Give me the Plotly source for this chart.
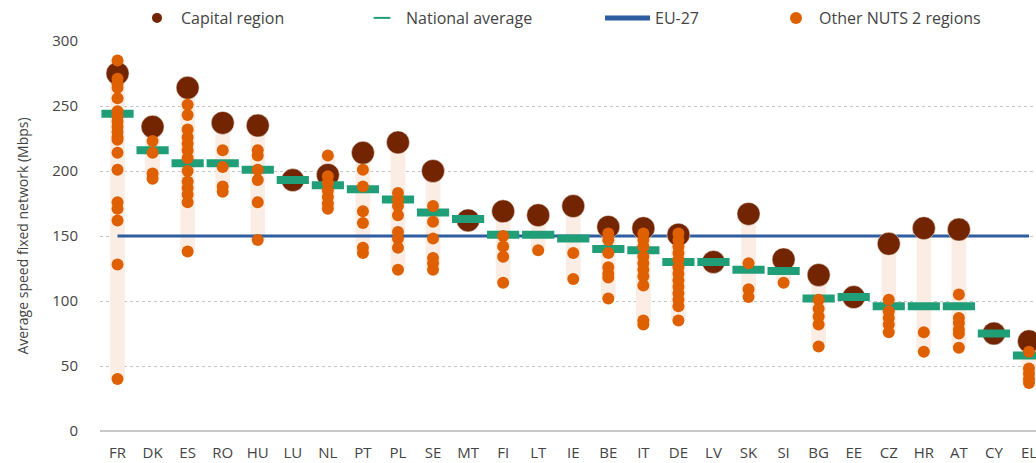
import plotly.graph_objects as go

countries = ["FR", "DK", "ES", "RO", "HU", "LU", "NL", "PT", "PL", "SE", "MT", "FI", "LT", "IE",
             "BE", "IT", "DE", "LV", "SK", "SI", "BG", "EE", "CZ", "HR", "AT", "CY", "EL"]

capital = [275, 234, 264, 237, 235, 193, 197, 214, 222, 200, 162, 169, 166, 173,
           157, 156, 151, 130, 167, 132, 120, 103, 144, 156, 155, 75, 69]

national = [244, 216, 206, 206, 201, 193, 189, 186, 178, 168, 163, 151, 151, 148,
            140, 139, 130, 130, 124, 123, 102, 103, 96, 96, 96, 75, 58]

eu27 = 150

other_regions = {
    "FR": [285, 271, 267, 264, 256, 246, 242, 238, 234, 230, 226, 224, 214, 201, 176, 171, 162, 128, 40],
    "DK": [223, 214, 198, 194],
    "ES": [251, 243, 232, 226, 221, 216, 210, 200, 192, 187, 182, 176, 138],
    "RO": [216, 203, 188, 184],
    "HU": [216, 212, 201, 193, 176, 147],
    "LU": [],
    "NL": [212, 196, 191, 185, 180, 175, 171],
    "PT": [201, 188, 169, 160, 141, 137],
    "PL": [183, 178, 173, 166, 153, 148, 141, 124],
    "SE": [173, 161, 148, 133, 129, 124],
    "MT": [],
    "FI": [150, 142, 134, 114],
    "LT": [139],
    "IE": [137, 117],
    "BE": [152, 147, 137, 126, 121, 118, 102],
    "IT": [152, 147, 142, 134, 129, 124, 119, 112, 85, 82],
    "DE": [152, 147, 142, 137, 132, 126, 121, 116, 111, 106, 101, 96, 85],
    "LV": [],
    "SK": [129, 109, 103],
    "SI": [114],
    "BG": [101, 94, 88, 82, 65],
    "EE": [],
    "CZ": [101, 92, 87, 82, 76],
    "HR": [76, 61],
    "AT": [105, 87, 83, 78, 75, 64],
    "CY": [],
    "EL": [61, 48, 44, 40, 37],
}

y_ticks = [0, 50, 100, 150, 200, 250, 300]

FONT = "Open Sans"
TXT = "#444444"

# range per country (min..max over capital + other regions)
lo, hi = [], []
for c, cap in zip(countries, capital):
    vals = other_regions[c] + [cap]
    lo.append(min(vals))
    hi.append(max(vals))

ox, oy = [], []
for c in countries:
    for v in other_regions[c]:
        ox.append(c)
        oy.append(v)

fig = go.Figure()

fig.add_trace(go.Bar(
    x=countries, y=[h - l for h, l in zip(hi, lo)], base=lo,
    width=0.42, marker=dict(color="#FCEDE4", line=dict(width=0)),
    showlegend=False, hoverinfo="skip"))

fig.add_trace(go.Scatter(
    x=[countries[0], countries[-1]], y=[eu27, eu27], mode="lines",
    line=dict(color="#2E5DA0", width=3), name="EU-27", legend="legend3"))

fig.add_trace(go.Scatter(
    x=countries, y=capital, mode="markers", name="Capital region",
    marker=dict(color="#722500", size=23, line=dict(color="white", width=0.5)),
    legend="legend"))

fig.add_trace(go.Scatter(
    x=countries, y=national, mode="markers", name="National average",
    marker=dict(symbol="line-ew", size=23, line=dict(color="#1F9E77", width=8)),
    legend="legend2"))

fig.add_trace(go.Scatter(
    x=ox, y=oy, mode="markers", name="Other NUTS 2 regions",
    marker=dict(color="#DF6000", size=12),
    legend="legend4"))

PLOT_L, PLOT_W = 100, 936
def px(v):
    return (v - PLOT_L) / PLOT_W

leg_common = dict(orientation="h", yanchor="middle", y=1.059, xanchor="left",
                  bgcolor="rgba(0,0,0,0)", borderwidth=0,
                  font=dict(family=FONT, size=16, color=TXT), itemsizing="constant")

fig.update_layout(
    width=1036, height=463,
    margin=dict(l=100, r=0, t=41, b=32, autoexpand=False),
    paper_bgcolor="white", plot_bgcolor="white",
    font=dict(family=FONT, color=TXT),
    barmode="overlay",
    legend=dict(x=px(133), itemwidth=38, **leg_common),
    legend2=dict(x=px(358), itemwidth=38, **leg_common),
    legend3=dict(x=px(600), itemwidth=45, **leg_common),
    legend4=dict(x=px(773), itemwidth=36, **leg_common),
    xaxis=dict(
        type="category", range=[-0.5, 26.2], showgrid=False, zeroline=False,
        showline=False, ticks="outside", ticklen=8, tickcolor="rgba(0,0,0,0)",
        tickfont=dict(family=FONT, size=15, color=TXT),
        automargin=False, fixedrange=True),
    yaxis=dict(
        range=[0, 300], tickvals=y_ticks, showgrid=True, gridcolor="#C4C4C4",
        griddash="dot", gridwidth=1, zeroline=True, zerolinecolor="#C8C8C8",
        zerolinewidth=2, showline=False, ticks="outside", ticklen=18,
        tickcolor="rgba(0,0,0,0)", tickfont=dict(family=FONT, size=15, color=TXT),
        title=dict(text="Average speed fixed network (Mbps)",
                   font=dict(family=FONT, size=14, color=TXT), standoff=20),
        automargin=False, fixedrange=True),
)

fig.write_html(
    "out.html",
    config={"displayModeBar": False},
    post_script="document.body.style.margin='0';document.body.style.overflow='hidden';")
